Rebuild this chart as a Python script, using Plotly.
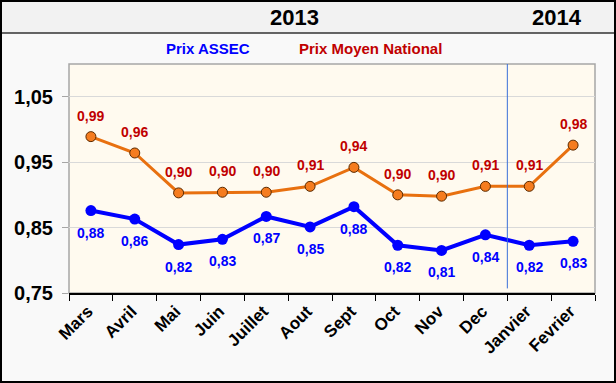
import plotly.graph_objects as go

months = ["Mars", "Avril", "Mai", "Juin", "Juillet", "Aout", "Sept", "Oct", "Nov", "Dec", "Janvier", "Fevrier"]
prix_moyen_national = [0.989, 0.964, 0.903, 0.904, 0.904, 0.913, 0.942, 0.900, 0.898, 0.913, 0.913, 0.976]
prix_assec = [0.876, 0.863, 0.824, 0.832, 0.867, 0.851, 0.882, 0.823, 0.815, 0.839, 0.823, 0.829]
year_labels = ["2013", "2014"]
legend_names = ["Prix ASSEC", "Prix Moyen National"]
y_ticks = [0.75, 0.85, 0.95, 1.05]

W, H = 616, 383
ML, MR, MT, MB = 69, 21, 64, 90
PW, PH = W - ML - MR, H - MT - MB


def px(x):
    return (x - ML) / PW


def py(y):
    return (H - MB - y) / PH


FONT = "Liberation Sans, Arial, sans-serif"
ORANGE = "#E8700F"
BLUE = "#0000FF"
RED = "#C00000"

fig = go.Figure()
fig.add_trace(go.Scatter(
    x=months, y=prix_moyen_national, mode="lines+markers", name=legend_names[1],
    line=dict(color=ORANGE, width=3),
    marker=dict(color="#F57C1F", size=10, line=dict(color="#5A2A00", width=1)),
))
fig.add_trace(go.Scatter(
    x=months, y=prix_assec, mode="lines+markers", name=legend_names[0],
    line=dict(color=BLUE, width=4),
    marker=dict(color=BLUE, size=11),
))

annotations = []
for m, v in zip(months, prix_moyen_national):
    annotations.append(dict(x=m, y=v, xref="x", yref="y", text="<b>" + f"{v:.2f}".replace(".", ",") + "</b>",
                            showarrow=False, yshift=21, xanchor="center", yanchor="middle",
                            font=dict(family=FONT, size=14, color=RED)))
for m, v in zip(months, prix_assec):
    annotations.append(dict(x=m, y=v, xref="x", yref="y", text="<b>" + f"{v:.2f}".replace(".", ",") + "</b>",
                            showarrow=False, yshift=-22, xanchor="center", yanchor="middle",
                            font=dict(family=FONT, size=14, color=BLUE)))
# legend texts
annotations.append(dict(x=px(208), y=py(48), xref="paper", yref="paper", text="<b>" + legend_names[0] + "</b>",
                        showarrow=False, xanchor="center", yanchor="middle",
                        font=dict(family=FONT, size=15, color=BLUE)))
annotations.append(dict(x=px(370), y=py(48), xref="paper", yref="paper", text="<b>" + legend_names[1] + "</b>",
                        showarrow=False, xanchor="center", yanchor="middle",
                        font=dict(family=FONT, size=15, color=RED)))
# year titles
annotations.append(dict(x=px(294), y=py(17), xref="paper", yref="paper", text="<b>" + year_labels[0] + "</b>",
                        showarrow=False, xanchor="center", yanchor="middle",
                        font=dict(family=FONT, size=22, color="black")))
annotations.append(dict(x=px(557), y=py(17), xref="paper", yref="paper", text="<b>" + year_labels[1] + "</b>",
                        showarrow=False, xanchor="center", yanchor="middle",
                        font=dict(family=FONT, size=22, color="black")))

shapes = [
    # title band
    dict(type="rect", xref="paper", yref="paper", x0=px(0), x1=px(W), y0=py(33), y1=py(0),
         fillcolor="#F2F2F2", line=dict(width=0), layer="below"),
    dict(type="line", xref="paper", yref="paper", x0=px(0), x1=px(W), y0=py(33), y1=py(33),
         line=dict(color="#333333", width=1.5)),
    # plot border
    dict(type="rect", xref="paper", yref="paper", x0=0, x1=1, y0=0, y1=1,
         line=dict(color="#A6A6A6", width=1.5), layer="below"),
    # year separator
    dict(type="line", xref="x", yref="paper", x0=9.5, x1=9.5, y0=0.02, y1=1,
         line=dict(color="#3A6FD8", width=1)),
    # outer border
    dict(type="rect", xref="paper", yref="paper", x0=px(1), x1=px(W - 1), y0=py(H - 1), y1=py(1),
         line=dict(color="black", width=2)),
]

fig.update_layout(
    width=W, height=H,
    margin=dict(l=ML, r=MR, t=MT, b=MB, autoexpand=False),
    paper_bgcolor="#F9F9F9",
    plot_bgcolor="#FFFAEF",
    showlegend=False,
    annotations=annotations,
    shapes=shapes,
    font=dict(family=FONT),
)
fig.update_xaxes(
    type="category", range=[-0.5, len(months) - 0.5], tickangle=-45, tickson="boundaries",
    ticks="outside", ticklen=6,
    tickcolor="black", showline=True, linecolor="black", linewidth=1.5, showgrid=False,
    ticklabelshift=-3, automargin=False,
    tickfont=dict(family=FONT, size=17, color="black", weight="bold"),
)
fig.update_yaxes(
    range=[0.75, 1.10], tickvals=y_ticks, ticktext=[f"{t:.2f}".replace(".", ",") for t in y_ticks],
    ticks="outside", ticklen=6, tickcolor="#A6A6A6", showgrid=True, gridcolor="#D9D9D9", gridwidth=1,
    showline=False, zeroline=False, ticklabelstandoff=5, automargin=False,
    tickfont=dict(family=FONT, size=20, color="black", weight="bold"),
)

fig.write_html("out.html", config={"displayModeBar": False},
               post_script="document.body.style.margin='0';")
